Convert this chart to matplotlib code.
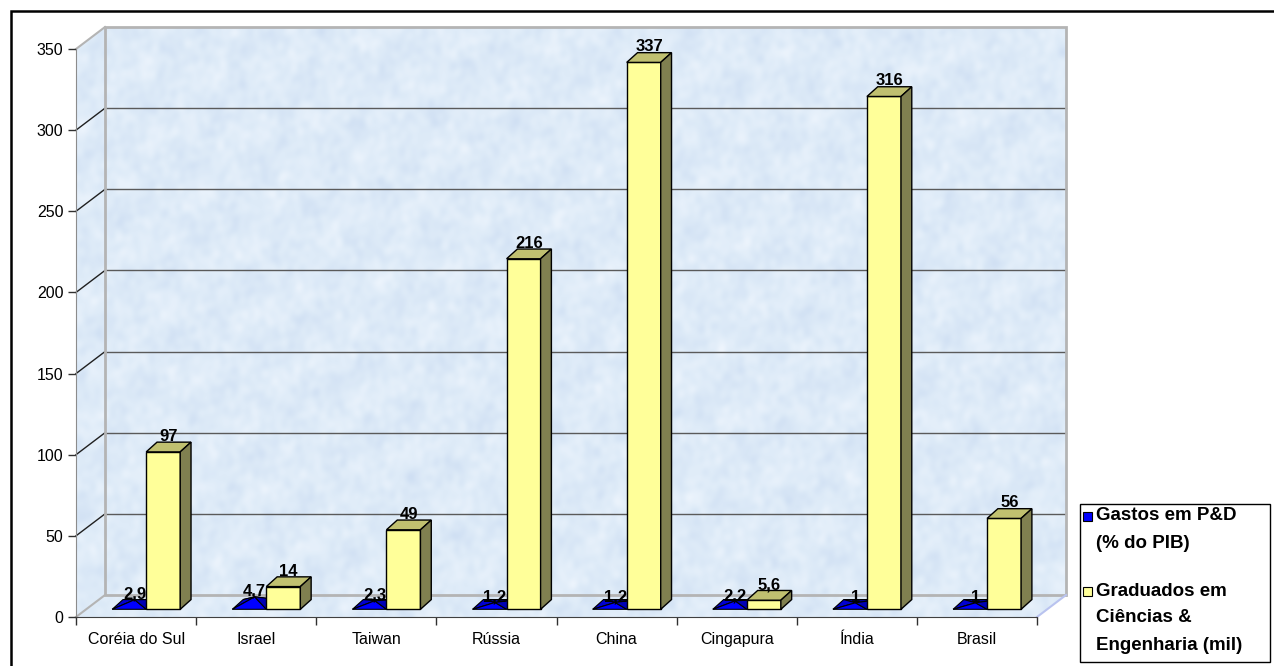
import numpy as np
import matplotlib.pyplot as plt
from matplotlib.patches import Polygon, Rectangle
from matplotlib.colors import LinearSegmentedColormap

# dados do grafico
categorias = ['Coréia do Sul', 'Israel', 'Taiwan', 'Rússia', 'China',
              'Cingapura', 'Índia', 'Brasil']
gastos = [2.9, 4.7, 2.3, 1.2, 1.2, 2.2, 1, 1]           # % do PIB
graduados = [97, 14, 49, 216, 337, 5.6, 316, 56]       # mil
y_ticks = [0, 50, 100, 150, 200, 250, 300, 350]
legenda_gastos = ['Gastos em P&D', '(% do PIB)']
legenda_grad = ['Graduados em', 'Ciências &', 'Engenharia (mil)']

W, H, DPI = 1274, 666, 100
plt.rcParams['font.family'] = ['Liberation Sans', 'DejaVu Sans']

fig = plt.figure(figsize=(W / DPI, H / DPI), dpi=DPI)
fig.patch.set_facecolor('white')

def fx(x):
    return x / W

def fy(y):
    return 1 - y / H

n = len(categorias)
ymax = y_ticks[-1]
ax = fig.add_axes([fx(76), fy(617), 961 / W, 568 / H])
ax.patch.set_visible(False)

# profundidade da caixa 3D (em unidades de dados)
DX, DY = 0.2415, 13.55
F0 = 0.35                # plano frontal das barras
ddx, ddy = 0.09, 6.0     # profundidade de cada barra
w = 0.283                # largura de cada barra

# fundo com textura azul clara (papel): soma de ondas em direcoes variadas
xx, yy = np.meshgrid(np.linspace(0, 2.0, 700), np.linspace(0, 1.0, 380))
tex = np.zeros_like(xx)
for k in range(1, 28):
    ang = k * 2.39996
    f = 40 + 11 * k
    fase = (k * 0.618) % 1 * 6.283
    u = np.cos(ang) * xx + np.sin(ang) * yy
    tex += np.sin(f * u + fase + 1.5 * np.sin(9 * (np.sin(ang) * xx - np.cos(ang) * yy) + k)) / np.sqrt(k)
cmap = LinearSegmentedColormap.from_list('papel', ['#cfdff3', '#deebf8', '#eef5fd'])
hexa = [(0, 0), (n, 0), (n + DX, DY), (n + DX, ymax + DY), (DX, ymax + DY), (0, ymax)]
im = ax.imshow(tex, extent=(0, n + DX, 0, ymax + DY), origin='lower', aspect='auto',
               cmap=cmap, interpolation='bilinear', zorder=0)
im.set_clip_box(fig.bbox)
im.set_clip_path(Polygon(hexa, closed=True, transform=ax.transData))

# linhas de grade na parede do fundo e na lateral
for v in y_ticks[1:-1]:
    ax.plot([DX, n + DX], [v + DY, v + DY], color='#5a5a5a', lw=1, zorder=1, clip_on=False)
    ax.plot([0, DX], [v, v + DY], color='#202020', lw=1, zorder=1, clip_on=False)

# bordas da caixa
borda = '#b4b4b4'
ax.add_patch(Rectangle((DX, DY), n, ymax, fill=False, ec=borda, lw=2, zorder=1, clip_on=False))
ax.plot([0, DX], [ymax, ymax + DY], color=borda, lw=1.5, zorder=1, clip_on=False)
ax.plot([0, DX], [0, DY], color=borda, lw=1.5, zorder=1, clip_on=False)
ax.plot([n, n + DX], [0, DY], color='#b9c3ef', lw=1.5, zorder=1, clip_on=False)

def fmt(v):
    return f'{v:g}'.replace('.', ',')

for i, (g, v) in enumerate(zip(gastos, graduados)):
    x0 = i + 0.5 + F0 * DX
    y0 = F0 * DY

    # piramide azul (gastos)
    fl = (x0 - w, y0)
    fr = (x0, y0)
    br = (x0 + ddx, y0 + ddy)
    bl = (x0 - w + ddx, y0 + ddy)
    apex = (x0 - w / 2 + ddx / 2, y0 + ddy / 2 + g)
    for pts, cor in [([bl, br, apex], '#0000a0'), ([fl, bl, apex], '#0000d0'),
                     ([fl, fr, apex], '#0000ff'), ([fr, br, apex], '#0000b4')]:
        ax.add_patch(Polygon(pts, closed=True, fc=cor, ec='black', lw=0.8, zorder=3,
                             clip_on=False))
    ax.text(apex[0], apex[1] + 0.5, fmt(g), ha='center', va='baseline',
            fontsize=12, fontweight='bold', zorder=5)

    # barra amarela (graduados)
    ax.bar(x0, v, width=w, bottom=y0, align='edge', color='#ffff99',
           edgecolor='black', lw=1, zorder=3)
    topo = [(x0, y0 + v), (x0 + w, y0 + v), (x0 + w + ddx, y0 + v + ddy), (x0 + ddx, y0 + v + ddy)]
    lado = [(x0 + w, y0), (x0 + w + ddx, y0 + ddy), (x0 + w + ddx, y0 + v + ddy), (x0 + w, y0 + v)]
    ax.add_patch(Polygon(topo, closed=True, fc='#c0c070', ec='black', lw=1, zorder=3, clip_on=False))
    ax.add_patch(Polygon(lado, closed=True, fc='#808050', ec='black', lw=1, zorder=3, clip_on=False))
    ax.text(x0 + w / 2 + ddx / 2, y0 + v + ddy + 0.8, fmt(v), ha='center', va='baseline',
            fontsize=12, fontweight='bold', zorder=5)

ax.set_xlim(0, n)
ax.set_ylim(0, ymax)

# eixos
for s in ['top', 'right']:
    ax.spines[s].set_visible(False)
ax.spines['left'].set_color('#8c8c8c')
ax.spines['bottom'].set_color('#404040')
ax.spines['left'].set_zorder(2)
ax.spines['bottom'].set_zorder(2)

ax.set_yticks(y_ticks)
ax.tick_params(axis='y', direction='out', length=6, width=1, color='#303030', pad=3,
               labelsize=11.5)
ax.set_xticks(range(n + 1))
ax.set_xticklabels([''] * (n + 1))
ax.set_xticks(np.arange(n) + 0.5, minor=True)
ax.set_xticklabels(categorias, minor=True)
ax.tick_params(axis='x', which='major', direction='out', length=6, width=1, color='#303030')
ax.tick_params(axis='x', which='minor', length=0, pad=11, labelsize=11.5)

# legenda
fig.patches.append(Rectangle((fx(1080), fy(662)), 190 / W, 158 / H, transform=fig.transFigure,
                             fc='white', ec='black', lw=1))
fig.patches.append(Rectangle((fx(1083), fy(521)), 9 / W, 9 / H, transform=fig.transFigure,
                             fc='#0000ff', ec='black', lw=0.8))
fig.patches.append(Rectangle((fx(1083), fy(596)), 9 / W, 9 / H, transform=fig.transFigure,
                             fc='#ffff99', ec='black', lw=0.8))
for txt, y in zip(legenda_gastos + legenda_grad, [516, 543, 591, 618, 645]):
    fig.text(fx(1096), fy(y), txt, ha='left', va='center', fontsize=13.5, fontweight='bold')

# moldura externa
fig.patches.append(Rectangle((fx(10.5), -0.1), 1.2, fy(11) + 0.1, transform=fig.transFigure,
                             fill=False, ec='black', lw=1.8))

fig.savefig('out.png', dpi=DPI)
